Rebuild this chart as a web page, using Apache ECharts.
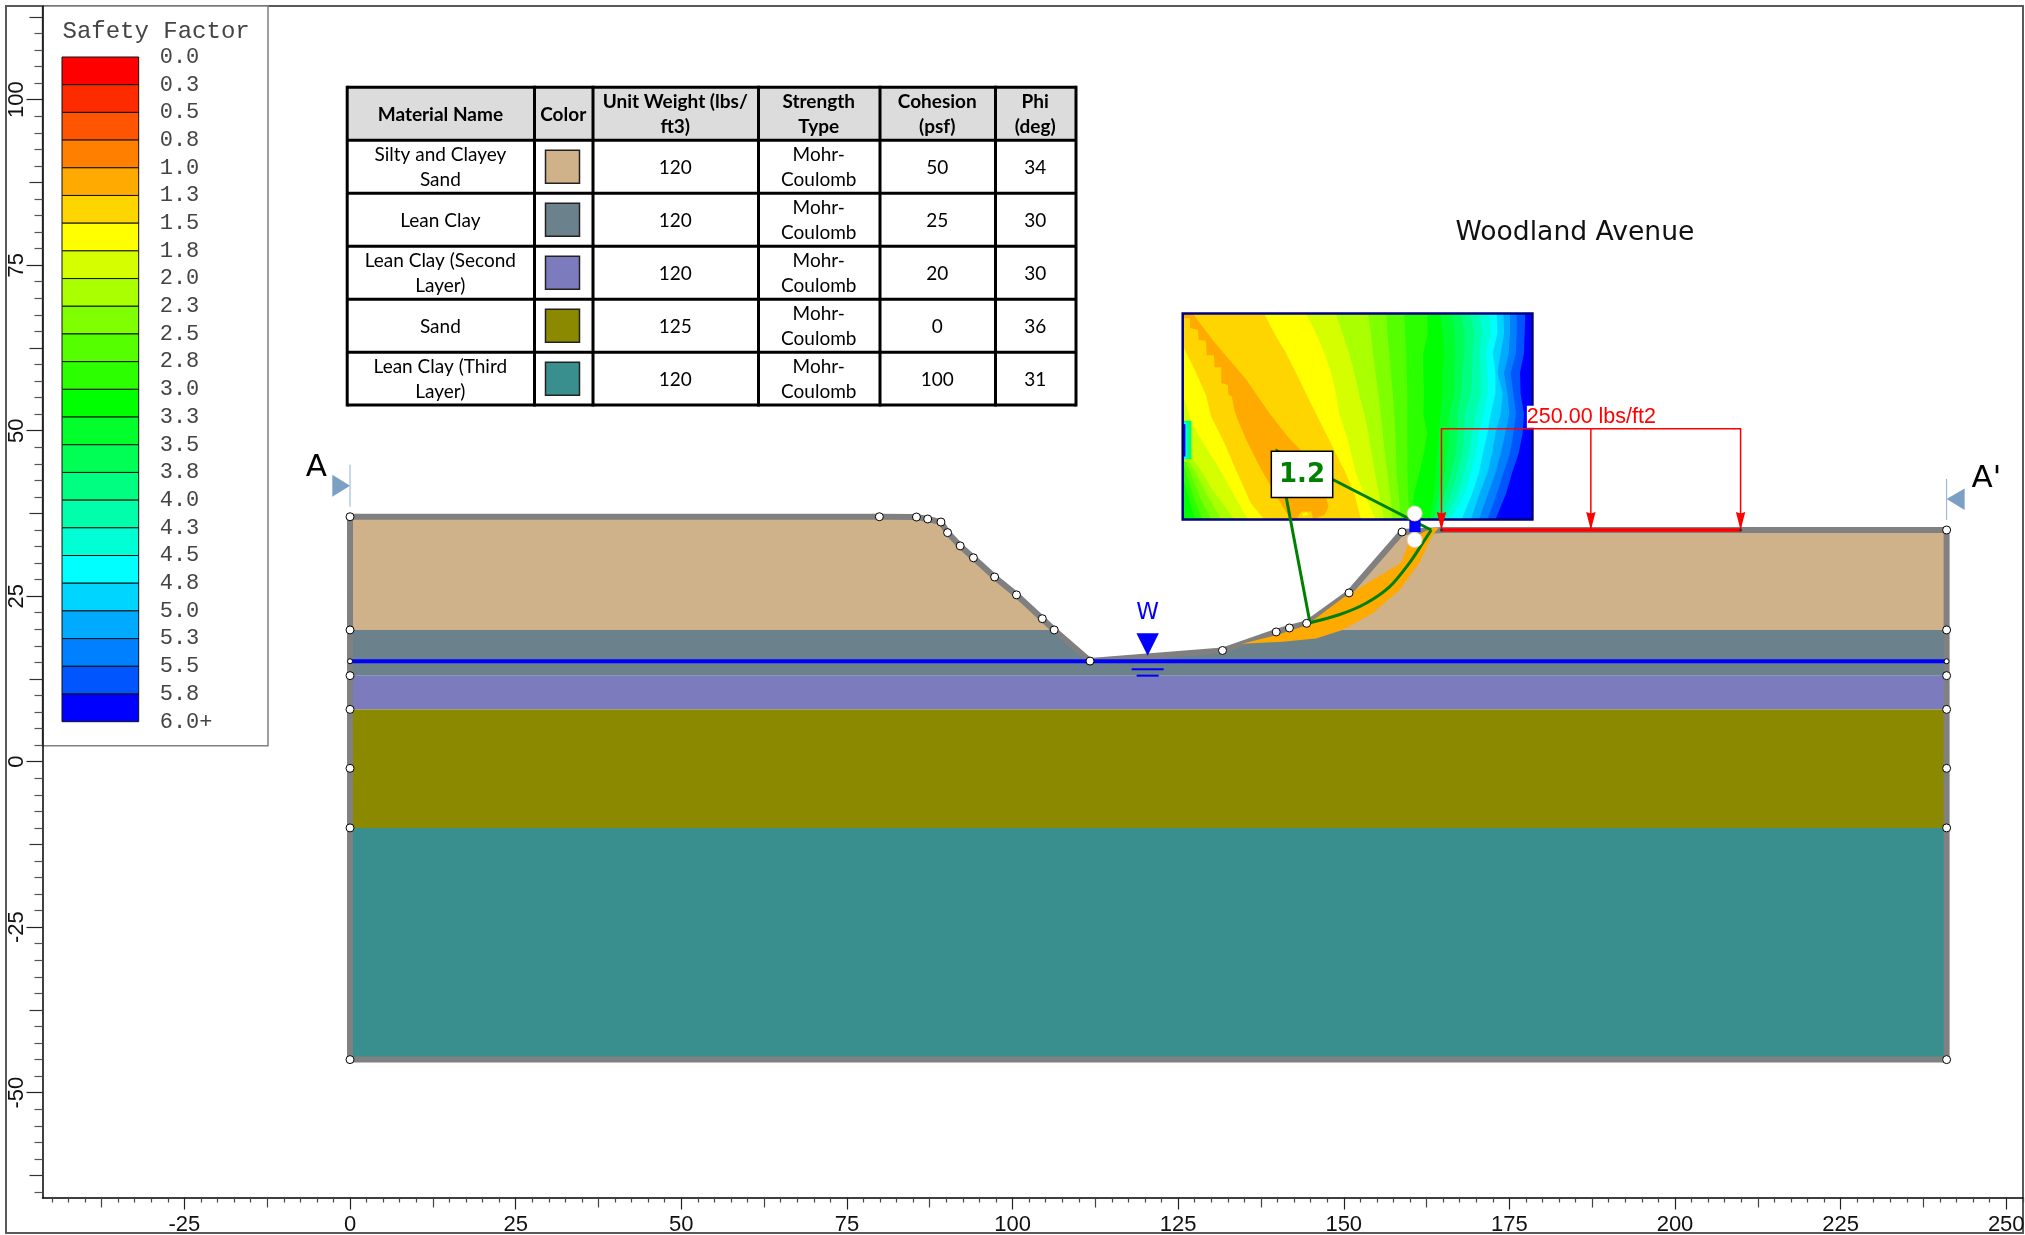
<!DOCTYPE html>
<html>
<head>
<meta charset="utf-8">
<style>html,body{margin:0;padding:0;background:#fff}#main{width:2025px;height:1235px}</style>
<script src="https://cdn.jsdelivr.net/npm/echarts@6/dist/echarts.min.js"></script>
</head>
<body>
<div id="main"></div>
<script>
// ---------- data ----------
const xMajor = [-25,0,25,50,75,100,125,150,175,200,225,250];
const yMajor = [-50,-25,0,25,50,75,100];
const safetyLabels = ['0.0','0.3','0.5','0.8','1.0','1.3','1.5','1.8','2.0','2.3','2.5','2.8','3.0','3.3','3.5','3.8','4.0','4.3','4.5','4.8','5.0','5.3','5.5','5.8','6.0+'];
const bandColors = ['#ff0000','#ff2b00','#ff5500','#ff8000','#ffaa00','#ffd500','#ffff00','#d5ff00','#aaff00','#80ff00','#55ff00','#2bff00','#00ff00','#00ff2b','#00ff55','#00ff80','#00ffaa','#00ffd5','#00ffff','#00d5ff','#00aaff','#0080ff','#0055ff','#0000ff'];

const tableHeaders = ['Material Name','Color','Unit Weight (lbs/\nft3)','Strength\nType','Cohesion\n(psf)','Phi\n(deg)'];
const materialNames = ['Silty and Clayey\nSand','Lean Clay','Lean Clay (Second\nLayer)','Sand','Lean Clay (Third\nLayer)'];
const materialColors = ['#cfb28a','#6b818b','#7b7bbd','#8b8900','#398e8e'];
const unitWeights = ['120','120','120','125','120'];
const strengthTypes = ['Mohr-\nCoulomb','Mohr-\nCoulomb','Mohr-\nCoulomb','Mohr-\nCoulomb','Mohr-\nCoulomb'];
const cohesions = ['50','25','20','0','100'];
const phis = ['34','30','30','36','31'];

const leftSlope = [[0,37],[79.9,37],[85.5,36.96],[87.2,36.66],[89.2,36.2],[90.2,34.6],[92.1,32.6],[94.1,30.8],[97.3,27.9],[100.6,25.2],[104.5,21.6],[106.3,19.9]];
const toe = [[111.7,15.2],[131.7,16.8],[139.8,19.6],[141.8,20.2]];
const rightSlope = [[144.4,20.9],[150.8,25.5],[158.8,34.7],[165,35],[241,35]];
const edgeNodes = [[0,37],[0,19.9],[0,13],[0,7.9],[0,-1],[0,-10],[0,-45],[241,35],[241,19.9],[241,13],[241,7.9],[241,-1],[241,-10],[241,-45]];
const waterLine = [[0,15.17],[241,15.17]];
const waterMark = [120.4,15.17];

const tanLeft = [...leftSlope,[106.3,19.9],[0,19.9]];
const tanRight = [[141.3,19.9],...rightSlope,[241,19.9]];
const leanClay = [[0,19.9],[106.3,19.9],[111.7,15.2],[131.7,16.8],[139.8,19.6],[141.3,19.9],[241,19.9],[241,13],[0,13]];
const secondClay = [[0,13],[241,13],[241,7.9],[0,7.9]];
const sandLayer = [[0,7.9],[241,7.9],[241,-10],[0,-10]];
const thirdClay = [[0,-10],[241,-10],[241,-45],[0,-45]];
const layerColors = ['#cfb28a','#cfb28a','#6b818b','#7b7bbd','#8b8900','#398e8e'];

const failureZone = [[134.6,17.8],[139.8,19.1],[144.4,20.6],[149.8,24.7],[154.3,27.4],[158.6,30],[159.4,32],[160,33.7],[163.4,35.3],[164.3,35.3],[163.4,34.2],[161.4,30],[158.4,25.9],[154.3,22.4],[149.8,19.9],[145.8,18.6],[140.8,18.1]];
const slipSurface = [[144.9,21],[149.3,22.2],[153.3,23.9],[156.9,26.4],[159.9,30],[161.9,33],[163.2,35]];
const slipCentre = [140,46.9];
const fosValue = '1.2';
const fosLabelAt = [143.7,43.4];
const gridPoints = [[160.7,37.5],[160.7,33.5]];
const blueMarker = [[159.9,36.9],[161.6,34.7]];

const loadLabel = '250.00 lbs/ft2';
const loadX = [164.75,187.3,209.9];
const loadSurfaceY = 35;
const loadTopY = 50.3;
const sectionLeftX = 0, sectionRightX = 241;

// search grid (safety factor contours)
const gridBox = [125.69,178.48,36.6,67.7];
const contourRows = [67.7,64.7,61.7,58.7,55.6,52.6,49.6,46.6,43.6,40.5,36.6];
const c7  = [138.0,139.5,141.3,142.8,144.3,145.8,147.3,148.8,150.3,151.6,152.6];
const c8  = [144.3,145.8,147.1,148.1,148.8,149.3,150.3,151.1,151.8,153.1,154.8];
const c9  = [148.8,149.8,150.8,151.6,152.3,153.1,153.7,154.2,154.7,155.3,156.1];
const c10 = [153.7,154.1,154.4,154.8,155.2,155.6,155.9,156.2,156.6,157.0,157.4];
const c11 = [156.4,156.6,156.9,157.1,157.4,157.6,157.8,157.9,158.0,158.3,158.6];
const c12 = [159.1,159.3,159.4,159.5,159.6,159.6,159.6,159.6,159.6,159.7,159.9];
const c13 = [162.6,162.7,162.0,162.0,162.1,162.0,162.6,162.1,161.4,160.6,160.4];
const c14 = [164.6,164.9,165.2,164.9,164.9,164.6,164.4,164.1,163.9,163.6,162.9];
const c15 = [166.2,166.7,166.8,166.7,166.7,165.9,165.9,165.7,165.2,164.4,163.5];
const c16 = [167.7,168.2,168.2,167.9,167.7,167.2,167.2,166.9,166.2,165.3,164.0];
const c17 = [169.0,169.7,169.4,169.4,169.2,168.3,168.2,167.9,167.2,166.2,164.6];
const c18 = [170.4,170.9,170.5,170.7,170.7,169.9,169.4,168.9,168.2,167.2,165.3];
const c19 = [172.0,172.2,171.5,171.7,171.7,171.2,170.4,169.9,169.2,168.3,166.2];
const c20 = [173.1,173.2,172.5,172.9,172.9,172.2,171.7,171.0,170.4,169.4,167.8];
const c21 = [174.1,174.2,173.7,173.2,174.0,173.7,172.9,172.4,171.7,170.5,169.2];
const c22 = [175.1,175.1,174.9,174.2,174.7,175.0,174.4,173.7,172.9,171.8,170.4];
const c23 = [176.1,176.1,176.0,175.2,175.6,176.0,175.6,175.1,174.1,173.1,171.7];
const c24 = [177.4,177.3,177.2,176.6,176.7,177.2,177.0,176.4,175.4,174.5,172.9];
const cornerYellow = [[125.69,62.4],[125.9,62.4],[127.5,59.2],[129.2,55.4],[130.0,52.1],[132.0,48.1],[133.7,44.1],[136.0,39.0],[138.0,36.6],[125.69,36.6]];
const cornerD5 = [[125.69,55.2],[125.8,55.2],[127.2,50.9],[128.7,48.3],[130.7,45.1],[132.7,41.6],[135.5,36.6],[125.69,36.6]];
const cornerAA = [[125.69,46.1],[127.0,46.1],[128.7,43.6],[130.2,41.0],[133.5,36.6],[125.69,36.6]];
const corner80 = [[125.69,45.3],[126.7,45.3],[128.2,42.6],[129.5,40.0],[131.5,36.6],[125.69,36.6]];
const corner55 = [[125.69,45.3],[126.2,45.3],[127.5,42.0],[128.5,39.5],[130.0,36.6],[125.69,36.6]];
const corner2B = [[125.69,45.1],[125.8,45.1],[126.7,42.0],[127.7,39.0],[128.7,36.6],[125.69,36.6]];
const corner00 = [[125.69,42.6],[125.8,42.6],[126.7,39.5],[127.5,36.6],[125.69,36.6]];
const coreOrange = [[125.69,67.7],[127.2,67.7],[130.2,63.7],[135.3,57.7],[138.8,52.6],[141.8,48.8],[143.3,47.3],[146.8,42.1],[147.7,38.5],[147.1,37.3],[145.3,36.6],[142.0,36.6],[140.8,38.5],[139.0,41.6],[137.3,44.6],[135.3,48.6],[134.0,51.6],[133.5,53.1],[133.1,55.2],[132.6,55.4],[132.5,56.9],[131.5,57.2],[131.5,59.6],[130.5,59.6],[130.4,61.4],[129.3,61.4],[129.2,63.6],[128.1,63.7],[128.0,65.2],[126.8,65.5],[126.8,67.0],[125.69,67.0]];
const spotOuter = [[143.0,36.9],[143.6,37.8],[145.1,37.8],[145.4,36.6]];
const spotInner = [[143.7,37.4],[144.4,37.7],[144.7,37.3],[143.9,37.1]];
const blipOuter = [[125.69,51.5],[127.0,51.5],[127.0,45.7],[125.69,45.7]];
const blipMiddle = [[125.69,51.2],[126.3,51.2],[126.3,45.8],[125.69,45.8]];
const blipInner = [[125.69,51.0],[126.1,51.0],[126.1,46.1],[125.69,46.1]];

// ---------- scaffolding ----------
const gridLeft=42.5, gridTop=6, gridW=1980.5, gridH=1191.5;
const xMin=-46.42, xMax=252.53, yMin=-65.83, yMax=114.15;
function multiples(step,lo,hi,skip){const r=[];for(let k=Math.ceil(lo/step);k*step<=hi;k++){const v=k*step;if(!skip||!skip(v))r.push(v);}return r;}
const xMid=multiples(12.5,xMin,xMax,v=>v%25===0), xMinor=multiples(2.5,xMin,xMax,v=>v%12.5===0);
const yMid=multiples(12.5,yMin,yMax,v=>v%25===0), yMinor=multiples(2.5,yMin,yMax,v=>v%12.5===0);

function polySeries(polys,colors,z,extra){
  return Object.assign({type:'custom',silent:true,clip:false,z,animation:false,
    renderItem:(p,api)=>{const i=api.value(0);return {type:'polygon',shape:{points:polys[i].map(q=>api.coord(q))},style:{fill:colors[i]}};},
    data:polys.map((_,i)=>[i])},extra||{});
}
function lineSeries(data,color,width,z,extra){
  return Object.assign({type:'line',data,showSymbol:false,symbol:'none',silent:true,clip:false,z,animation:false,
    lineStyle:{color,width,cap:'butt',join:'miter'}},extra||{});
}
function nodeSeries(data,size,z){
  return {type:'scatter',data,symbol:'circle',symbolSize:size,silent:true,clip:false,z,animation:false,
    itemStyle:{color:'#fff',borderColor:'#000',borderWidth:1,opacity:1}};
}
function pxSeries(data,z,fn){
  return {type:'custom',silent:true,clip:false,z,animation:false,data:data.map((_,i)=>[i]),
    renderItem:(p,api)=>fn(data[api.value(0)],api,api.value(0))};
}
function rowLine(xs){return xs.map((x,i)=>[x,contourRows[i]]);}
function leftOf(xs){return [...rowLine(xs),[gridBox[0],gridBox[2]],[gridBox[0],gridBox[3]]];}

const contourLines=[c24,c23,c22,c21,c20,c19,c18,c17,c16,c15,c14,c13,c12,c11,c10,c9,c8,c7];
const contourFills=[22,21,20,19,18,17,16,15,14,13,12,11,10,9,8,7,6,5].map(i=>bandColors[i]);
const boxPoly=[[gridBox[0],gridBox[3]],[gridBox[1],gridBox[3]],[gridBox[1],gridBox[2]],[gridBox[0],gridBox[2]]];
const contourPolys=[boxPoly,...contourLines.map(leftOf),cornerYellow,cornerD5,cornerAA,corner80,corner55,corner2B,corner00,blipOuter,blipMiddle,blipInner,coreOrange,spotOuter,spotInner];
const contourColors=['#0000ff',...contourFills,bandColors[6],bandColors[7],bandColors[8],bandColors[9],bandColors[10],bandColors[11],bandColors[12],'#00ff80','#00ffff','#0000ff',bandColors[4],bandColors[5],bandColors[6]];

const outline=[...leftSlope,...toe,...rightSlope,[241,-45],[0,-45],[0,37]];
const profileNodes=[...leftSlope.slice(1),...toe,...rightSlope.slice(0,3)];

const annotations=[
 {t:'Woodland Avenue',x:184.9,y:79.9,font:'26.6px "DejaVu Sans"',fill:'#111'},
 {t:'A',x:-5.1,y:44.4,font:'31px "DejaVu Sans"',fill:'#000'},
 {t:"A'",x:247.0,y:42.7,font:'31px "DejaVu Sans"',fill:'#000'},
 {t:'W',x:120.4,y:22.4,font:'23px "DejaVu Sans"',fill:'#0000ff'}
];

// graphics: frame, legend panel, table
const g=[];
g.push({type:'rect',z:-1,silent:true,shape:{x:6,y:6,width:2017,height:1227},style:{fill:'#fff',stroke:'#5a5a5a',lineWidth:2}});
g.push({type:'rect',z:0,silent:true,shape:{x:42.5,y:6,width:225.5,height:739.7},style:{fill:'#fff',stroke:'#808080',lineWidth:1.5}});
g.push({type:'text',z:10,silent:true,style:{text:'Safety Factor',x:62.5,y:32,verticalAlign:'middle',font:'24px "Liberation Mono"',fill:'#444'}});
const colX=[347.2,534.5,593,758.5,880,995.5,1076], rowY=[87.3,140.3,193.3,246.3,299.3,352.3,405];
g.push({type:'rect',z:10,silent:true,shape:{x:colX[0],y:rowY[0],width:colX[6]-colX[0],height:rowY[1]-rowY[0]},style:{fill:'#dcdcdc'}});
colX.forEach(x=>g.push({type:'line',z:12,silent:true,shape:{x1:x,y1:rowY[0]-1.5,x2:x,y2:rowY[6]+1.5},style:{stroke:'#000',lineWidth:3}}));
rowY.forEach(y=>g.push({type:'line',z:12,silent:true,shape:{x1:colX[0],y1:y,x2:colX[6],y2:y},style:{stroke:'#000',lineWidth:3}}));
function cell(text,c,r,bold){g.push({type:'text',z:13,silent:true,style:{text,x:(colX[c]+colX[c+1])/2-0.5,y:(rowY[r]+rowY[r+1])/2+1,align:'center',verticalAlign:'middle',lineHeight:25,font:(bold?'bold ':'')+'19px Lato',fill:'#000'}});}
tableHeaders.forEach((h,c)=>cell(h,c,0,true));
materialNames.forEach((n,i)=>{
  cell(n,0,i+1);cell(unitWeights[i],2,i+1);cell(strengthTypes[i],3,i+1);cell(cohesions[i],4,i+1);cell(phis[i],5,i+1);
  g.push({type:'rect',z:13,silent:true,shape:{x:545.5,y:(rowY[i+1]+rowY[i+2])/2-16.5,width:34,height:33},style:{fill:materialColors[i],stroke:'#222',lineWidth:1.5}});
});

const axisCommon={min:xMin,max:xMax,gridIndex:0,position:'bottom',splitLine:{show:false}};
const yCommon={min:yMin,max:yMax,gridIndex:0,position:'left',splitLine:{show:false}};
const option={
 animation:false,
 backgroundColor:'#fff',
 grid:[{left:gridLeft,top:gridTop,width:gridW,height:gridH,containLabel:false,outerBoundsMode:'none'},{left:62,top:57,width:76.7,height:664.7,outerBoundsMode:'none'}],
 graphic:g,
 xAxis:[
  Object.assign({type:'value',axisLine:{onZero:false,lineStyle:{color:'#000',width:1.5}},
    axisTick:{customValues:xMajor,length:12,lineStyle:{color:'#222',width:1.2}},
    axisLabel:{customValues:xMajor,margin:16,fontFamily:'"Liberation Sans"',fontSize:22,color:'#111',showMinLabel:true,showMaxLabel:true,hideOverlap:false}},axisCommon),
  Object.assign({type:'value',axisLine:{show:false,onZero:false},axisTick:{customValues:xMid,length:10,lineStyle:{color:'#444',width:1.2}},axisLabel:{show:false}},axisCommon),
  Object.assign({type:'value',axisLine:{show:false,onZero:false},axisTick:{customValues:xMinor,length:5,lineStyle:{color:'#444',width:1.2}},axisLabel:{show:false}},axisCommon),
  {type:'value',gridIndex:1,min:0,max:1,show:false}
 ],
 yAxis:[
  Object.assign({type:'value',axisLine:{onZero:false,lineStyle:{color:'#000',width:1.5}},
    axisTick:{customValues:yMajor,length:16,lineStyle:{color:'#222',width:1.2}},
    axisLabel:{customValues:yMajor,rotate:90,margin:15,fontFamily:'"Liberation Sans"',fontSize:22,color:'#111',hideOverlap:false}},yCommon),
  Object.assign({type:'value',axisLine:{show:false,onZero:false},axisTick:{customValues:yMid,length:13,lineStyle:{color:'#333',width:1.2}},axisLabel:{show:false}},yCommon),
  Object.assign({type:'value',axisLine:{show:false,onZero:false},axisTick:{customValues:yMinor,length:8,lineStyle:{color:'#555',width:1.2}},axisLabel:{show:false}},yCommon),
  {type:'value',gridIndex:1,min:0,max:6,interval:0.25,inverse:true,position:'right',splitLine:{show:false},axisLine:{show:false},axisTick:{show:false},
   axisLabel:{margin:21,fontFamily:'"Liberation Mono"',fontSize:22,color:'#444',formatter:(v,i)=>safetyLabels[i],showMinLabel:true,showMaxLabel:true,hideOverlap:false}}
 ],
 series:[
  // legend colour bar
  {type:'custom',xAxisIndex:3,yAxisIndex:3,silent:true,clip:false,z:5,animation:false,
   data:bandColors.map((_,i)=>[i]),
   renderItem:(p,api)=>{const i=api.value(0);const a=api.coord([0,i*0.25]),b=api.coord([1,(i+1)*0.25]);
     return {type:'rect',shape:{x:a[0],y:a[1],width:b[0]-a[0],height:b[1]-a[1]},style:{fill:bandColors[i],stroke:'#111',lineWidth:1}};}},
  // soil layers
  polySeries([tanLeft,tanRight,leanClay,secondClay,sandLayer,thirdClay],layerColors,2),
  lineSeries(outline,'#808080',6,3),
  // search grid
  polySeries(contourPolys,contourColors,4),
  pxSeries([boxPoly],5,(poly,api)=>({type:'polygon',shape:{points:poly.map(q=>api.coord(q))},style:{fill:'none',stroke:'#000080',lineWidth:2.5}})),
  // failure zone
  polySeries([failureZone],['#ffaa00'],6),
  lineSeries(waterLine,'#0000ff',4,6),
  // load label sits under the load lines
  pxSeries([loadLabel],6,(t,api)=>{const c=api.coord([loadX[1],loadTopY]);return {type:'text',style:{text:t,x:c[0]-64,y:c[1]-12,verticalAlign:'middle',font:'21.5px "Liberation Sans"',fill:'#ff0000',backgroundColor:'#fff'}};}),
  // load
  lineSeries(loadX.map(x=>[x,loadSurfaceY]),'#ff0000',3.5,7),
  lineSeries([[loadX[0],loadSurfaceY],[loadX[0],loadTopY],[loadX[2],loadTopY],[loadX[2],loadSurfaceY]],'#ff0000',1.5,7),
  lineSeries([[loadX[1],loadTopY],[loadX[1],loadSurfaceY]],'#ff0000',1.5,7),
  pxSeries(loadX,8,(x,api)=>{const c=api.coord([x,loadSurfaceY]);return {type:'polygon',shape:{points:[[c[0],c[1]],[c[0]-4.7,c[1]-18],[c[0],c[1]-16.5],[c[0]+4.7,c[1]-18]]},style:{fill:'#ff0000'}};}),
  {type:'scatter',data:[[loadX[0],loadSurfaceY],[loadX[2],loadSurfaceY]],symbolSize:3,silent:true,clip:false,z:8,animation:false,itemStyle:{color:'#333',opacity:1}},
  // slip surface
  lineSeries(slipSurface,'#008000',3,8,{smooth:0.3}),
  lineSeries([slipSurface[0],slipCentre,slipSurface[slipSurface.length-1]],'#008000',3,8),
  pxSeries([fosValue],9,(t,api)=>{const c=api.coord(fosLabelAt);return {type:'group',children:[
     {type:'rect',shape:{x:c[0]-30.7,y:c[1]-23.2,width:61.4,height:46.4},style:{fill:'#fff',stroke:'#000',lineWidth:1.5}},
     {type:'text',style:{text:t,x:c[0],y:c[1]+1,align:'center',verticalAlign:'middle',font:'bold 26px "DejaVu Sans"',fill:'#008000'}}]};}),
  // nodes
  nodeSeries(profileNodes,8,9),
  nodeSeries(edgeNodes,8,9),
  nodeSeries(waterLine,5,9),
  // water table symbol
  pxSeries([waterMark],9,(m,api)=>{const c=api.coord(m);return {type:'group',children:[
     {type:'polygon',shape:{points:[[c[0]-11.2,c[1]-28],[c[0]+11.2,c[1]-28],[c[0],c[1]-5.6]]},style:{fill:'#0000ff'}},
     {type:'line',shape:{x1:c[0]-16,y1:c[1]+8,x2:c[0]+16,y2:c[1]+8},style:{stroke:'#0000ff',lineWidth:2}},
     {type:'line',shape:{x1:c[0]-11,y1:c[1]+14.4,x2:c[0]+11,y2:c[1]+14.4},style:{stroke:'#0000ff',lineWidth:2}}]};}),
  // slip centre grid markers
  pxSeries([blueMarker],10,(m,api)=>{const a=api.coord(m[0]),b=api.coord(m[1]);return {type:'rect',shape:{x:a[0],y:a[1],width:b[0]-a[0],height:b[1]-a[1]},style:{fill:'#0000ff'}};}),
  {type:'scatter',data:gridPoints,symbol:'circle',symbolSize:15,silent:true,clip:false,z:11,animation:false,itemStyle:{color:'#fff',borderColor:'#f3c9b8',borderWidth:1,opacity:1}},
  // section markers
  pxSeries([sectionLeftX],9,(x,api)=>{const c=api.coord([x,37]);return {type:'group',children:[
     {type:'line',shape:{x1:c[0],y1:c[1]-52,x2:c[0],y2:c[1]-10},style:{stroke:'#8fb0d2',lineWidth:1}},
     {type:'polygon',shape:{points:[[c[0],c[1]-31],[c[0]-17.7,c[1]-42],[c[0]-17.7,c[1]-20]]},style:{fill:'#7c9fc4'}}]};}),
  pxSeries([sectionRightX],9,(x,api)=>{const c=api.coord([x,35]);return {type:'group',children:[
     {type:'line',shape:{x1:c[0],y1:c[1]-51,x2:c[0],y2:c[1]-10},style:{stroke:'#8fb0d2',lineWidth:1}},
     {type:'polygon',shape:{points:[[c[0],c[1]-31],[c[0]+18,c[1]-41.5],[c[0]+18,c[1]-20]]},style:{fill:'#7c9fc4'}}]};}),
  // text annotations
  pxSeries(annotations,10,(a,api)=>{const c=api.coord([a.x,a.y]);return {type:'text',style:{text:a.t,x:c[0],y:c[1],align:'center',verticalAlign:'middle',font:a.font,fill:a.fill}};})
 ]
};
const chart=echarts.init(document.getElementById('main'),null,{renderer:'canvas',width:2025,height:1235});
chart.setOption(option);
</script>
</body>
</html>
